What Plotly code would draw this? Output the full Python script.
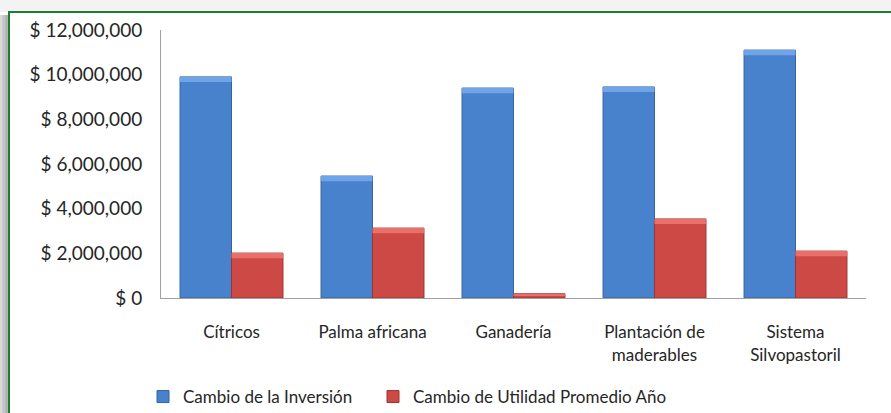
import plotly.graph_objects as go

# Data
categorias = ["Cítricos", "Palma africana", "Ganadería",
              "Plantación de<br>maderables", "Sistema<br>Silvopastoril"]
cambio_inversion = [9900000, 5460000, 9400000, 9450000, 11100000]
cambio_utilidad = [2010000, 3130000, 190000, 3540000, 2100000]
ticks_y = [0, 2000000, 4000000, 6000000, 8000000, 10000000, 12000000]
nombres = ["Cambio de la Inversión", "Cambio de Utilidad Promedio Año"]

# Page geometry (pixels)
W, H = 891, 413
ML, MR, MT, MB = 161, 25, 30, 115
PW, PH = W - ML - MR, H - MT - MB


def px_x(px):
    return (px - ML) / PW


def px_y(py):
    return (H - MB - py) / PH


FONT = "Lato"
TXT = "#262626"
BLUE, BLUE_EDGE, BLUE_HI = "#4882CC", "#33659F", "#6FA5E8"
RED, RED_EDGE, RED_HI = "#CC4945", "#9E3230", "#E86F6A"

# height of the bevel highlight on top of each bar, in data units
bevel = 230000

fig = go.Figure()
for nombre, vals, fill, edge, hi, grp, leg in [
    (nombres[0], cambio_inversion, BLUE, BLUE_EDGE, BLUE_HI, "inv", "legend"),
    (nombres[1], cambio_utilidad, RED, RED_EDGE, RED_HI, "util", "legend2"),
]:
    fig.add_trace(go.Bar(
        x=categorias, y=vals, name=nombre, offsetgroup=grp, legend=leg,
        marker=dict(color=fill, line=dict(color=edge, width=1)),
    ))
    h = [min(bevel, v * 0.35) for v in vals]
    fig.add_trace(go.Bar(
        x=categorias, y=h, base=[v - d for v, d in zip(vals, h)],
        offsetgroup=grp, showlegend=False, hoverinfo="skip",
        marker=dict(color=hi, line=dict(width=0)),
    ))

shapes = []
# light strip above the frame
shapes.append(dict(type="rect", xref="paper", yref="paper",
                   x0=px_x(-5), x1=px_x(W + 5), y0=px_y(12), y1=px_y(-5),
                   fillcolor="#F3F3F3", line_width=0, layer="below"))
# shadow on the left side of the frame
greys = ["#DADADA", "#CFCFCF", "#C4C4C4", "#BABABA", "#B0B0B0", "#A8A8A8"]
for i, g in enumerate(greys):
    x0 = i * 9 / len(greys)
    shapes.append(dict(type="rect", xref="paper", yref="paper",
                       x0=px_x(x0), x1=px_x(x0 + 9 / len(greys) + 0.3),
                       y0=px_y(H + 5), y1=px_y(15),
                       fillcolor=g, line_width=0, layer="below"))
# green frame border
shapes.append(dict(type="path", xref="paper", yref="paper",
                   path=f"M {px_x(9)},{px_y(H + 5)} L {px_x(9)},{px_y(12)} L {px_x(W + 5)},{px_y(12)}",
                   line=dict(color="#1E7D32", width=2)))

legend_style = dict(orientation="h", xanchor="left", yanchor="top",
                    font=dict(size=17, color=TXT), bgcolor="rgba(0,0,0,0)")

fig.update_layout(
    width=W, height=H,
    margin=dict(l=ML, r=MR, t=MT, b=MB, autoexpand=False),
    paper_bgcolor="white", plot_bgcolor="white",
    barmode="group", bargap=0.27, bargroupgap=0,
    font=dict(family=FONT, size=17, color=TXT),
    showlegend=True,
    legend=dict(x=px_x(143), y=px_y(379), **legend_style),
    legend2=dict(x=px_x(373), y=px_y(379), **legend_style),
    shapes=shapes,
    xaxis=dict(showline=True, linecolor="#A0A0A0", linewidth=1,
               showgrid=False, ticks="", ticklabelstandoff=19,
               tickfont=dict(size=17, color=TXT)),
    yaxis=dict(range=[0, 12000000], tickvals=ticks_y,
               ticktext=[f"$ {v:,}" for v in ticks_y],
               showline=True, linecolor="#A0A0A0",
               linewidth=1, showgrid=False, zeroline=False, ticks="",
               ticklabelstandoff=14, tickfont=dict(size=19, color=TXT)),
)

fig.write_html("out.html")
